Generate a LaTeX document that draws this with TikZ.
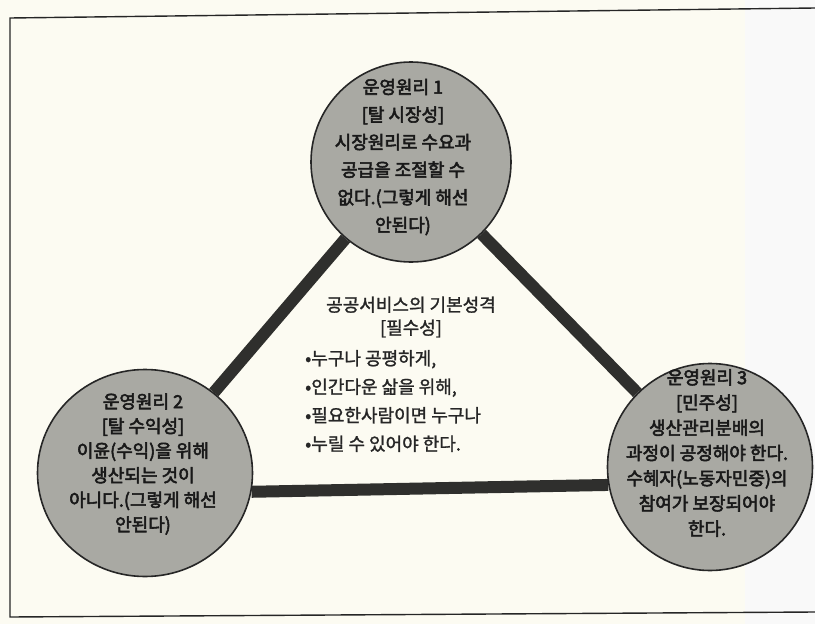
\documentclass[tikz,border=0pt]{standalone}
\usepackage{fontspec}
\newfontfamily\kr[FakeBold=1.4]{Noto Sans CJK KR}
\newfontfamily\krb[FakeBold=3]{Noto Sans CJK KR}
\usetikzlibrary{shapes.geometric}
\pgfdeclarelayer{paperlayer}
\pgfdeclarelayer{linklayer}
\pgfsetlayers{paperlayer,linklayer,main}
\definecolor{paper}{HTML}{FCFBF2}
\definecolor{disc}{HTML}{A9A9A3}
\definecolor{bar}{HTML}{2F2F2D}
\tikzset{
  disc/.style={ellipse, draw=black!85, line width=1.6pt, fill=disc, inner sep=0pt},
  link/.style={draw=bar, line width=12pt},
  frame/.style={draw=black!85, line width=1.4pt},
  disctext/.style={align=center, inner sep=0pt, text=black!90},
  midtext/.style={inner sep=0pt, text=black!85, font=\kr\fontsize{18}{28.5}\selectfont}
}
\begin{document}
\begin{tikzpicture}[x=1pt,y=-1pt]
\useasboundingbox (0,0) rectangle (815,624);
\begin{pgfonlayer}{paperlayer}
\fill[paper] (0,0) rectangle (815,624);
\fill[black!2.5] (745,0) rectangle (815,624);
\coordinate (f1) at (815,8);
\coordinate (f2) at (10,18);
\coordinate (f3) at (10,617);
\coordinate (f4) at (815,612);
\draw[frame] (f1) -- (f2) -- (f3) -- (f4);
\end{pgfonlayer}
% circles
\node[disc, minimum width=200pt, minimum height=200pt] (T) at (411,162) {};
\node[disc, minimum width=215pt, minimum height=207pt] (L) at (145,473) {};
\node[disc, minimum width=205pt, minimum height=207pt] (R) at (710,467) {};
% connectors
\begin{pgfonlayer}{linklayer}
\path[link] (T) -- (L);
\path[link] (T) -- (R);
\path[link] (L.-10) -- (R.190);
\end{pgfonlayer}
% circle texts
\node[disctext, font=\krb\fontsize{18}{27.6}\selectfont] (Tt) at (403,157) {운영원리 1\\{}[탈 시장성]\\시장원리로 수요과\\공급을 조절할 수\\없다.(그렇게 해선\\안된다)};
\node[disctext, font=\krb\fontsize{18}{24.6}\selectfont] (Lt) at (143,464) {운영원리 2\\{}[탈 수익성]\\이윤(수익)을 위해\\생산되는 것이\\아니다.(그렇게 해선\\안된다)};
\node[disctext, font=\krb\fontsize{18}{25.2}\selectfont] (Rt) at (707,453) {운영원리 3\\{}[민주성]\\생산관리분배의\\과정이 공정해야 한다.\\수혜자(노동자민중)의\\참여가 보장되어야\\한다.};
% centre text
\node[midtext, align=center, font=\kr\fontsize{18}{23}\selectfont] (Ch) at (411,317) {공공서비스의 기본성격\\{}[필수성]};
\node[midtext, align=left, anchor=west] (Cb) at (305,401) {•누구나 공평하게,\\•인간다운 삶을 위해,\\•필요한사람이면 누구나\\•누릴 수 있어야 한다.};
\end{tikzpicture}
\end{document}
